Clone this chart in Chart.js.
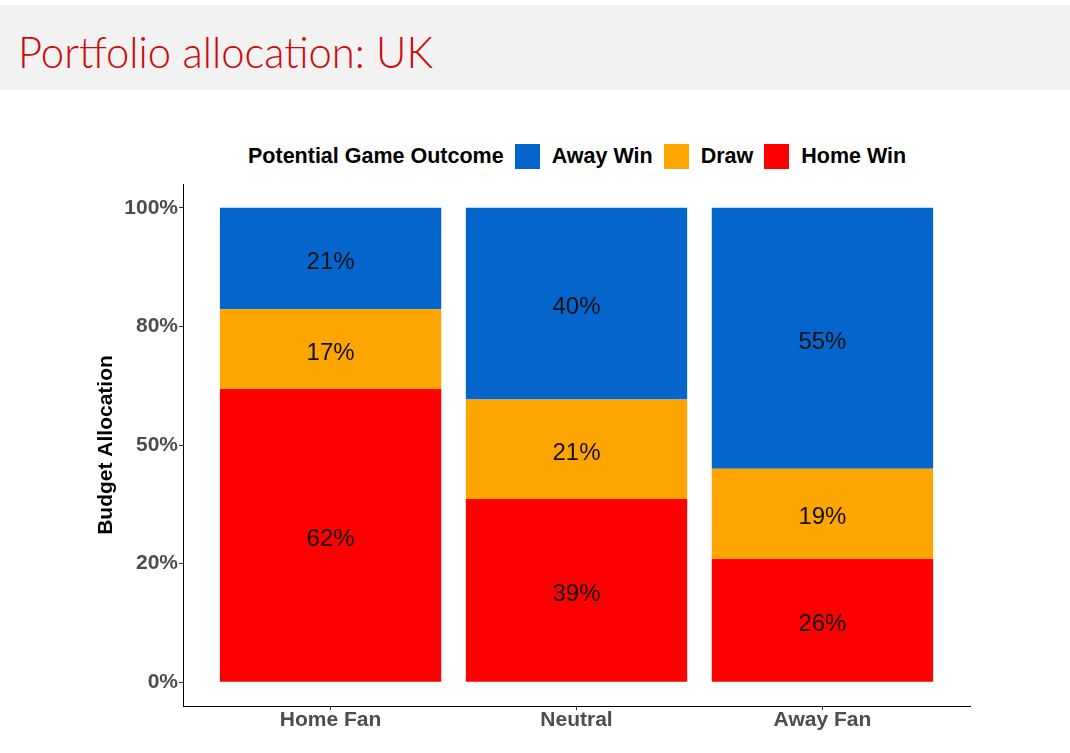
<!DOCTYPE html>
<html>
<head>
<meta charset="utf-8">
<title>Portfolio allocation: UK</title>
<script src="https://cdn.jsdelivr.net/npm/chart.js@4.4.1/dist/chart.umd.min.js"></script>
<style>
  html, body { margin: 0; padding: 0; background: #fff; }
  #page { position: relative; width: 1070px; height: 753px; overflow: hidden; }
  #banner {
    position: absolute; left: 0; top: 5px; width: 1070px; height: 85px;
    background: #f2f2f2;
  }
  #banner h1 {
    position: absolute; left: 18px; top: 22px; margin: 0;
    font-family: Lato, "Open Sans", "DejaVu Sans", sans-serif;
    font-weight: 300; font-size: 43px; line-height: 50px;
    color: #cc0a0a; white-space: nowrap; transform-origin: left center;
  }
  #legend {
    position: absolute; left: 248px; top: 144px; height: 25px;
    display: flex; align-items: center;
    font-family: "Liberation Sans", Arial, sans-serif; font-weight: bold; font-size: 21.5px; color: #000;
  }
  #legend .box { width: 25px; height: 25px; margin-left: 11px; }
  #legend .lbl { margin-left: 12px; }
  #chart-wrap { position: absolute; left: 0; top: 0; width: 1070px; height: 753px; }
</style>
</head>
<body>
<div id="page">
  <div id="banner"><h1 id="title">Portfolio allocation: UK</h1></div>
  <div id="legend"><span>Potential Game Outcome</span></div>
  <div id="chart-wrap"><canvas id="allocChart"></canvas></div>
</div>
<script>
// categories along the x axis
const fanTypes = ['Home Fan', 'Neutral', 'Away Fan'];

// share of budget (%) per outcome
const homeWin = [61.8, 38.6, 26.0];
const draw    = [16.8, 21.0, 19.0];
const awayWin = [21.4, 40.4, 55.0];

// y ticks and the labels printed next to them
const tickValues = [0, 25, 50, 75, 100];
const tickLabels = ['0%', '20%', '50%', '80%', '100%'];

const outcomeColors = { 'Home Win': '#ff0000', 'Draw': '#ffa500', 'Away Win': '#0466cc' };

const toPoints = (vals) => vals.map((v, i) => ({ x: i + 1, y: v }));

// fit the title width
const titleEl = document.getElementById('title');
const titleWidth = titleEl.getBoundingClientRect().width;
titleEl.style.transform = `scaleX(${415 / titleWidth})`;

const segmentLabels = {
    id: 'segmentLabels',
    afterDatasetsDraw(chart) {
        const ctx = chart.ctx;
        ctx.save();
        ctx.font = '24px "Liberation Sans", Arial, sans-serif';
        ctx.fillStyle = '#111';
        ctx.textAlign = 'center';
        ctx.textBaseline = 'middle';
        chart.data.datasets.forEach((ds, di) => {
            const meta = chart.getDatasetMeta(di);
            meta.data.forEach((bar, i) => {
                const { x, y, base } = bar.getProps(['x', 'y', 'base'], true);
                // ggplot centres on the full text box, so digits sit a little low
                ctx.fillText(Math.round(ds.data[i].y) + '%', x, (y + base) / 2 + 4);
            });
        });
        ctx.restore();
    }
};

const ctx = document.getElementById('allocChart').getContext('2d');
const chart = new Chart(ctx, {
    type: 'bar',
    data: {
        datasets: [
            { label: 'Home Win', data: toPoints(homeWin), backgroundColor: outcomeColors['Home Win'] },
            { label: 'Draw', data: toPoints(draw), backgroundColor: outcomeColors['Draw'] },
            { label: 'Away Win', data: toPoints(awayWin), backgroundColor: outcomeColors['Away Win'] }
        ]
    },
    options: {
        responsive: true,
        maintainAspectRatio: false,
        animation: false,
        layout: { padding: { top: 184, right: 100, left: 0, bottom: 0 } },
        datasets: { bar: { categoryPercentage: 0.9, barPercentage: 1, borderWidth: 0 } },
        plugins: {
            legend: { display: false },
            tooltip: { enabled: false }
        },
        scales: {
            x: {
                type: 'linear',
                stacked: true,
                offset: false,
                min: 0.4,
                max: 3.6,
                afterBuildTicks: (scale) => { scale.ticks = fanTypes.map((_, i) => ({ value: i + 1 })); },
                afterFit: (scale) => { scale.height = 47; },
                grid: { offset: false, drawOnChartArea: false, drawTicks: true, tickLength: 4, color: '#333' },
                border: { display: true, color: '#000', width: 1 },
                ticks: {
                    autoSkip: false,
                    maxRotation: 0,
                    padding: -2,
                    color: '#4d4d4d',
                    font: { family: '"Liberation Sans", Arial, sans-serif', size: 21, weight: 'bold' },
                    callback: (v) => fanTypes[v - 1]
                }
            },
            y: {
                stacked: true,
                min: -5,
                max: 105,
                afterBuildTicks: (scale) => { scale.ticks = tickValues.map(v => ({ value: v })); },
                afterFit: (scale) => { scale.width = 183; },
                grid: { drawOnChartArea: false, drawTicks: true, tickLength: 4, color: '#333' },
                border: { display: true, color: '#000', width: 1 },
                ticks: {
                    padding: 1,
                    color: '#4d4d4d',
                    font: { family: '"Liberation Sans", Arial, sans-serif', size: 21, weight: 'bold' },
                    callback: (v) => tickLabels[tickValues.indexOf(v)]
                },
                title: {
                    display: true,
                    text: 'Budget Allocation',
                    color: '#000',
                    padding: { top: 94, bottom: 0 },
                    font: { family: '"Liberation Sans", Arial, sans-serif', size: 21, weight: 'bold' }
                }
            }
        }
    },
    plugins: [segmentLabels]
});

// legend built from the datasets, top of stack first
const legendDiv = document.getElementById('legend');
chart.data.datasets.slice().reverse().forEach(ds => {
    const box = document.createElement('span');
    box.className = 'box';
    box.style.background = ds.backgroundColor;
    const lbl = document.createElement('span');
    lbl.className = 'lbl';
    lbl.textContent = ds.label;
    legendDiv.appendChild(box);
    legendDiv.appendChild(lbl);
});
</script>
</body>
</html>
